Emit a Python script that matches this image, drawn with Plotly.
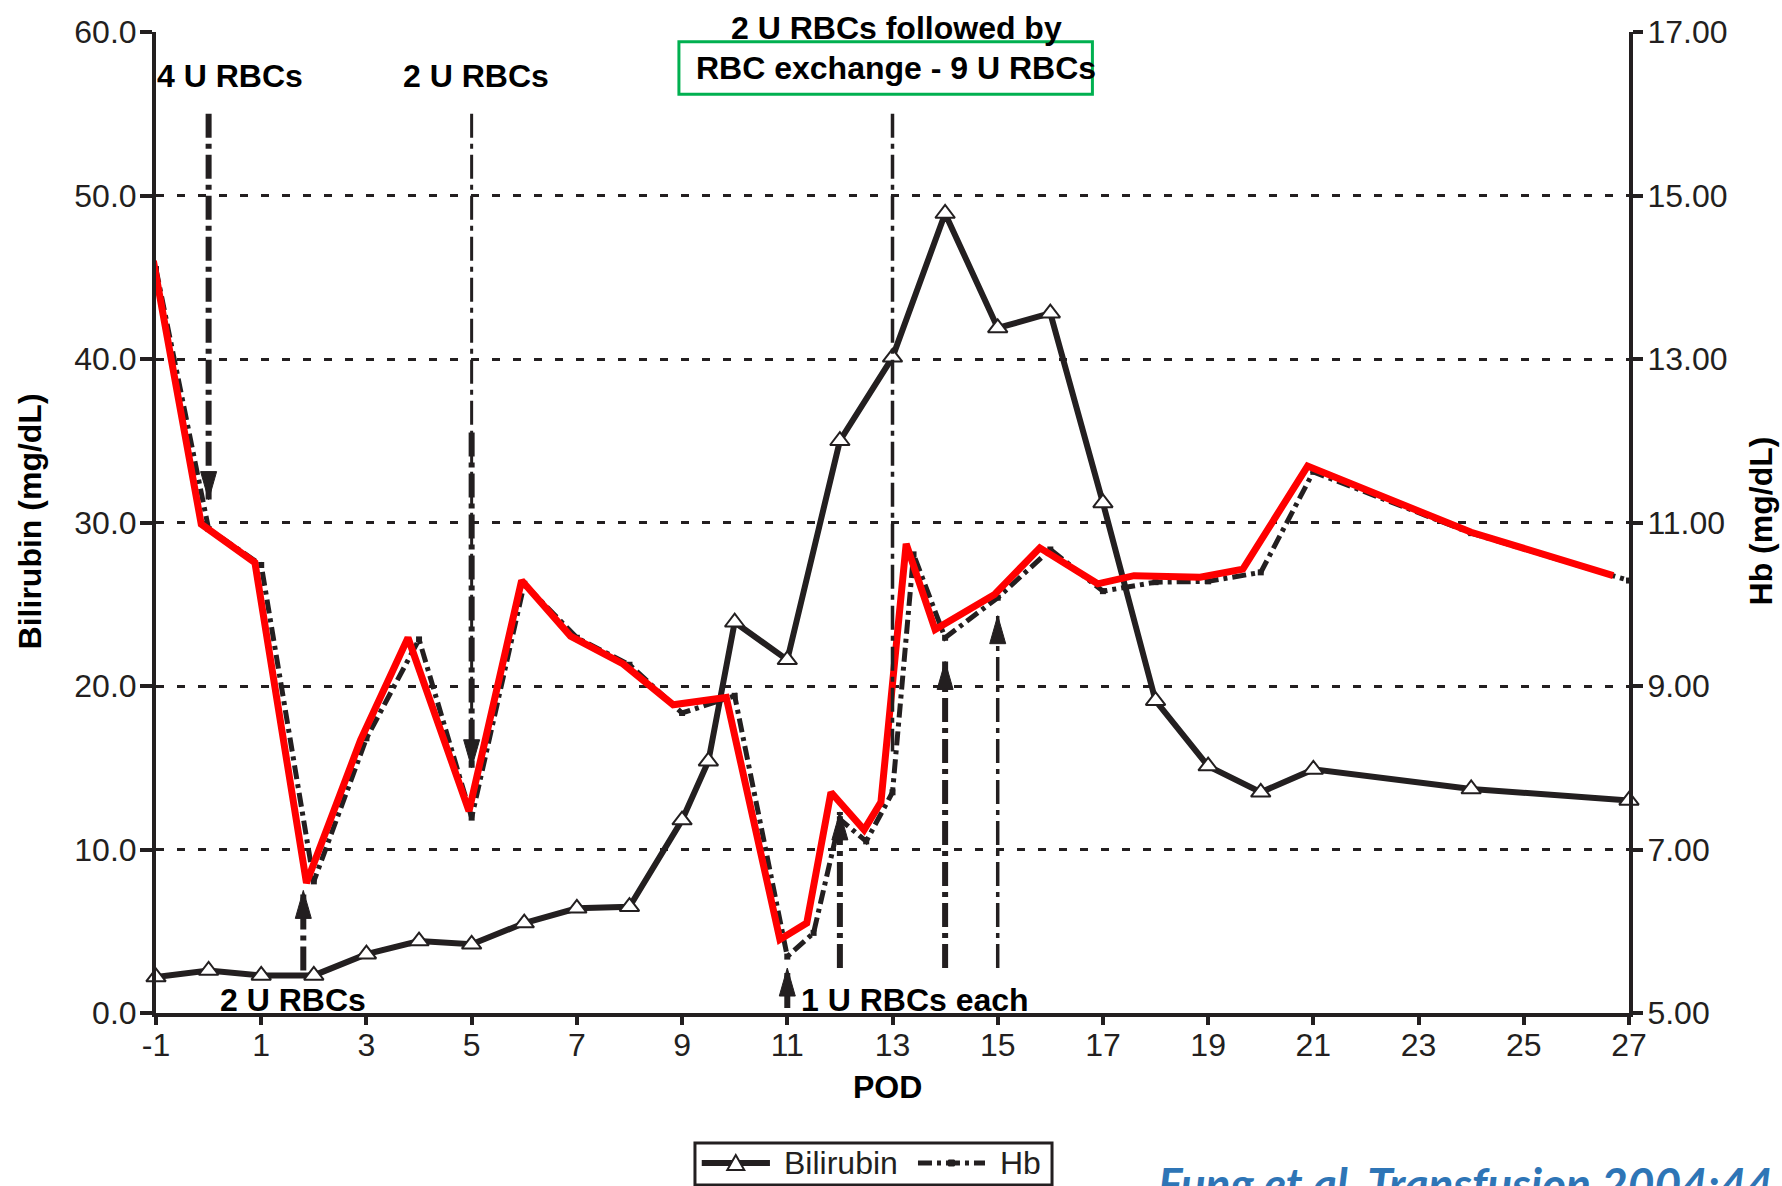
import plotly.graph_objects as go

# ---- data -------------------------------------------------------------
pod_bili = [-1, 0, 1, 2, 3, 4, 5, 6, 7, 8, 9, 9.5, 10, 11, 12, 13, 14, 15, 16, 17, 18, 19, 20, 21, 24, 27]
bilirubin = [2.2, 2.6, 2.3, 2.3, 3.6, 4.4, 4.2, 5.5, 6.4, 6.5, 11.8, 15.4, 23.9, 21.6, 35.0, 40.1,
             48.9, 41.9, 42.8, 31.2, 19.1, 15.1, 13.5, 14.9, 13.7, 13.0]

pod_hb = [-1, 0, 1, 2, 3, 4, 5, 6, 7, 8, 9, 10, 11, 11.5, 12, 12.5, 13, 13.4, 14, 15, 16, 17,
          18, 19, 20, 21, 24, 27]
hb = [14.1, 10.92, 10.48, 6.61, 8.36, 9.57, 7.39, 10.25, 9.59, 9.26, 8.67, 8.88, 5.69, 5.98,
      7.37, 7.10, 7.70, 10.61, 9.59, 10.08, 10.67, 10.16, 10.27, 10.28, 10.39, 11.62, 10.87, 10.29]

# hand-drawn red highlight of the Hb course
pod_hb_trace = [-1.05, -0.14, 0.88, 1.86, 2.89, 3.79, 4.95, 5.95, 6.88, 7.88, 8.83, 9.84, 10.86,
                11.37, 11.83, 12.46, 12.78, 13.26, 13.81, 14.94, 15.80, 16.90, 17.59, 18.85,
                19.66, 20.89, 24.0, 26.7]
hb_trace = [14.2, 10.98, 10.51, 6.59, 8.34, 9.59, 7.47, 10.29, 9.61, 9.27, 8.77, 8.86, 5.90,
            6.10, 7.70, 7.24, 7.58, 10.74, 9.69, 10.12, 10.69, 10.25, 10.35, 10.33, 10.43,
            11.69, 10.88, 10.35]

# transfusion markers, in bilirubin-axis units: POD, tail value, head value
arrow_pod = [0, 5, 13, 1.8, 11, 12, 14, 15]
arrow_tail = [55.0, 55.0, 55.0, 2.6, 0.3, 2.75, 2.75, 2.75]
arrow_head = [31.4, 15.0, 16.0, 7.5, 2.75, 12.3, 21.5, 24.3]

x_ticks = list(range(-1, 28, 2))
x_tick_text = [str(v) for v in x_ticks]
y_left_ticks = [0, 10, 20, 30, 40, 50, 60]
y_right_ticks = [5, 7, 9, 11, 13, 15, 17]

legend_names = ["Bilirubin", "Hb"]

# ---- styling ----------------------------------------------------------
INK = "#231f20"
FONT = "Liberation Sans"
BILI_LINE = dict(color=INK, width=6)
HB_LINE = dict(color=INK, width=5, dash="14px,5px,4px,5px")
TRI_PATH = "M-8.5,-7 L8.5,-7 L0,8 Z"
DOT_PATH = "M-3,-3 H3 V3 H-3 Z"
arrow_width = [6, 3, 3.5, 6, 6, 6, 6, 3.5]
arrow_has_head = [True, True, False, True, True, True, True, True]
thick_part_start = {1: 35.5}  # index -> value where a thin line turns thick
ARROW_DASH = "24px,6px,5px,6px"

fig = go.Figure()

fig.add_trace(go.Scatter(
    x=pod_bili, y=bilirubin, name=legend_names[0], mode="lines+markers",
    line=BILI_LINE,
    marker=dict(symbol="triangle-up", size=17, color="white", line=dict(color=INK, width=2)),
    cliponaxis=False, yaxis="y", showlegend=False,
))

fig.add_trace(go.Scatter(
    x=pod_hb, y=hb, name=legend_names[1], mode="lines+markers",
    line=HB_LINE,
    marker=dict(symbol="square", size=6, color=INK),
    cliponaxis=False, yaxis="y2", showlegend=False,
))

fig.add_trace(go.Scatter(
    x=pod_hb_trace, y=hb_trace, mode="lines", showlegend=False,
    line=dict(color="#ff0000", width=7), yaxis="y2", hoverinfo="skip",
))

shapes = []
for i, (px, tail, head) in enumerate(zip(arrow_pod, arrow_tail, arrow_head)):
    shapes.append(dict(type="line", xref="x", yref="y", x0=px, x1=px, y0=tail, y1=head,
                       line=dict(color=INK, width=arrow_width[i], dash=ARROW_DASH), layer="above"))
    if i in thick_part_start:
        shapes.append(dict(type="line", xref="x", yref="y", x0=px, x1=px,
                           y0=thick_part_start[i], y1=head,
                           line=dict(color=INK, width=6, dash=ARROW_DASH), layer="above"))
    if arrow_has_head[i]:
        sign = 1 if tail > head else -1  # pointing down when tail is above
        path = f"M0,0 L-8,{28 * sign} L8,{28 * sign} Z"
        shapes.append(dict(type="path", xref="x", yref="y", xsizemode="pixel", ysizemode="pixel",
                           xanchor=px, yanchor=head, path=path,
                           fillcolor=INK, line=dict(color=INK, width=1), layer="above"))

# green frame around the exchange note
shapes.append(dict(type="rect", xref="x", yref="y", x0=8.94, x1=16.80, y0=56.2, y1=59.4,
                   line=dict(color="#00b050", width=3), layer="above"))

# legend box below the x-axis title
LEG_Y = -0.1529
shapes += [
    dict(type="rect", xref="paper", yref="paper", x0=0.3659, x1=0.6083, y0=-0.1753, y1=-0.1325,
         line=dict(color=INK, width=3), fillcolor="white", layer="above"),
    dict(type="line", xref="paper", yref="paper", x0=0.3705, x1=0.4168, y0=LEG_Y, y1=LEG_Y,
         line=BILI_LINE, layer="above"),
    dict(type="path", xref="paper", yref="paper", xsizemode="pixel", ysizemode="pixel",
         xanchor=0.3936, yanchor=LEG_Y, path=TRI_PATH, fillcolor="white",
         line=dict(color=INK, width=2), layer="above"),
    dict(type="line", xref="paper", yref="paper", x0=0.5173, x1=0.5628, y0=LEG_Y, y1=LEG_Y,
         line=HB_LINE, layer="above"),
    dict(type="path", xref="paper", yref="paper", xsizemode="pixel", ysizemode="pixel",
         xanchor=0.5400, yanchor=LEG_Y, path=DOT_PATH, fillcolor=INK,
         line=dict(color=INK, width=1), layer="above"),
]

txt = dict(family=FONT, size=32, color="black", weight="bold")
annotations = [
    dict(x=0.41, y=57.3, text="4 U RBCs"),
    dict(x=5.08, y=57.3, text="2 U RBCs"),
    dict(x=13.07, y=57.8, text="RBC exchange - 9 U RBCs"),
    dict(x=1.60, y=0.8, text="2 U RBCs"),
    dict(x=13.43, y=0.8, text="1 U RBCs each"),
]
for a in annotations:
    a.update(xref="x", yref="y", showarrow=False, font=txt, xanchor="center", yanchor="middle")

leg_font = dict(family=FONT, size=32, color=INK)
annotations += [
    dict(xref="paper", yref="paper", x=0.5029, y=1.0037, text="2 U RBCs followed by",
         showarrow=False, font=txt, xanchor="center", yanchor="middle"),
    dict(xref="paper", yref="paper", x=0.4965, y=-0.0754, text="POD", showarrow=False,
         font=txt, xanchor="center", yanchor="middle"),
    dict(xref="paper", yref="paper", x=-0.0853, y=0.5015, text="Bilirubin (mg/dL)",
         textangle=-90, showarrow=False, font=txt, xanchor="center", yanchor="middle"),
    dict(xref="paper", yref="paper", x=1.0899, y=0.5015, text="Hb (mg/dL)",
         textangle=-90, showarrow=False, font=txt, xanchor="center", yanchor="middle"),
    dict(xref="paper", yref="paper", x=0.4250, y=LEG_Y, text=legend_names[0], showarrow=False,
         font=leg_font, xanchor="left", yanchor="middle"),
    dict(xref="paper", yref="paper", x=0.5716, y=LEG_Y, text=legend_names[1], showarrow=False,
         font=leg_font, xanchor="left", yanchor="middle"),
    dict(xref="paper", yref="paper", x=0.679, y=-0.1733, text="Fung et al. Transfusion 2004:44",
         showarrow=False, xanchor="left", yanchor="middle",
         font=dict(family="Lato", size=46, color="#2e75b6", weight="bold", style="italic")),
]

axis_common = dict(showline=True, linecolor=INK, linewidth=4, ticks="outside",
                   tickcolor=INK, tickwidth=4, tickfont=dict(family=FONT, size=32, color=INK),
                   zeroline=False)

fig.update_layout(
    width=1782, height=1186,
    margin=dict(l=156, r=153, t=32, b=173, autoexpand=False),
    paper_bgcolor="white", plot_bgcolor="white",
    showlegend=False,
    xaxis=dict(range=[-1, 27], tickvals=x_ticks, ticktext=x_tick_text, ticklen=8,
               showgrid=False, ticklabelstandoff=-7, **axis_common),
    yaxis=dict(range=[0, 60], tickvals=y_left_ticks, tickformat=".1f", ticklen=12,
               showgrid=True, gridcolor=INK, gridwidth=3, griddash="8px,13px",
               ticklabelstandoff=-3, **axis_common),
    yaxis2=dict(range=[5, 17], tickvals=y_right_ticks, tickformat=".2f", ticklen=10,
                overlaying="y", side="right", showgrid=False, ticklabelstandoff=-2, **axis_common),
    shapes=shapes,
    annotations=annotations,
)

fig.write_html("out.html")
